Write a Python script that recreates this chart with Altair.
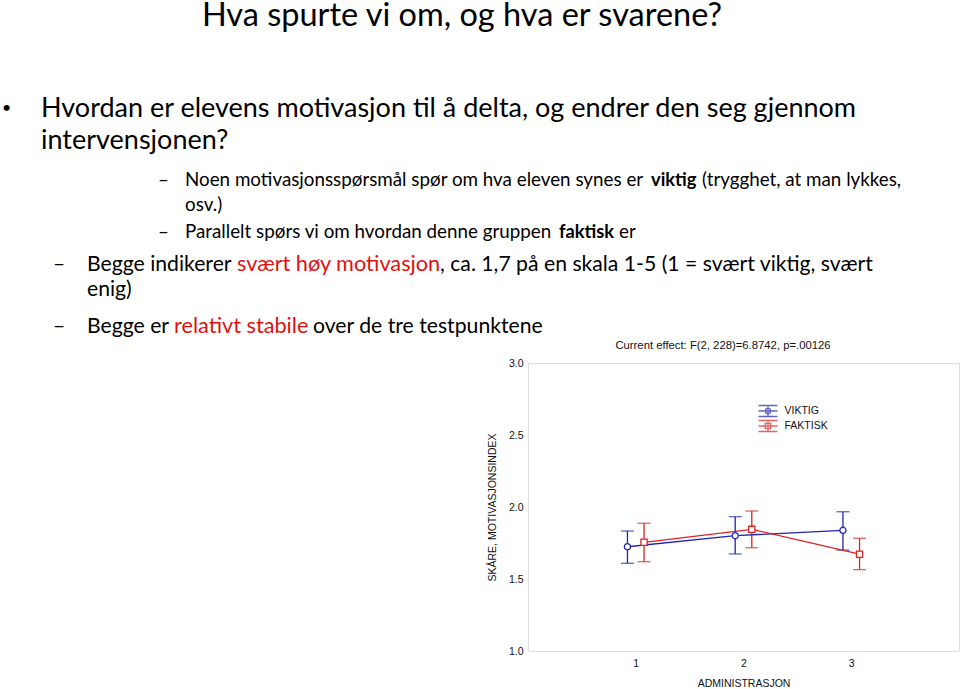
import altair as alt
import pandas as pd

# ---------------- chart data ----------------
administrasjon = [1, 2, 3]
series_names = ["VIKTIG", "FAKTISK"]
viktig_mean = [1.724, 1.801, 1.838]
viktig_lo = [1.609, 1.674, 1.701]
viktig_hi = [1.833, 1.933, 1.967]
faktisk_mean = [1.755, 1.845, 1.672]
faktisk_lo = [1.620, 1.717, 1.565]
faktisk_hi = [1.887, 1.972, 1.783]
y_ticks = [1.0, 1.5, 2.0, 2.5, 3.0]
x_ticks = [1, 2, 3]

chart_title = "Current effect: F(2, 228)=6.8742, p=.00126"
x_title = "ADMINISTRASJON"
y_title = "SKÅRE, MOTIVASJONSINDEX"

# ---------------- slide text ----------------
slide_title = "Hva spurte vi om, og hva er svarene?"
bullet_line1 = "Hvordan er elevens motivasjon til å delta, og endrer den seg gjennom"
bullet_line2 = "intervensjonen?"
sub1_a = "Noen motivasjonsspørsmål spør om hva eleven synes er"
sub1_bold = "viktig"
sub1_b = "(trygghet, at man lykkes,"
sub1_cont = "osv.)"
sub2_a = "Parallelt spørs vi om hvordan denne gruppen"
sub2_bold = "faktisk"
sub2_b = "er"
item1_a = "Begge indikerer"
item1_red = "svært høy motivasjon"
item1_b = ", ca. 1,7 på en skala 1-5 (1 = svært viktig, svært"
item1_cont = "enig)"
item2_a = "Begge er"
item2_red = "relativt stabile"
item2_b = "over de tre testpunktene"

BLUE = "#2323b4"
RED = "#dc2222"
TXT_RED = "#e01010"
FONT = "Liberation Sans"
SLIDE_FONT = "Lato"

# plot-area placement on the 960x689 page
PL, PT, PW, PH = 528, 363, 431, 288

rows = []
for name, m, lo, hi in [("VIKTIG", viktig_mean, viktig_lo, viktig_hi),
                        ("FAKTISK", faktisk_mean, faktisk_lo, faktisk_hi)]:
    for a, mv, lv, hv in zip(administrasjon, m, lo, hi):
        rows.append({"series": name, "adm": a, "mean": mv, "lo": lv, "hi": hv})
df = pd.DataFrame(rows)

base = alt.Chart(df).transform_calculate(
    xpos="datum.adm + (datum.series == 'VIKTIG' ? -0.077 : 0.077)"
)

xscale = alt.Scale(domain=[0, 4], nice=False, zero=False)
yscale = alt.Scale(domain=[1, 3], nice=False, zero=False)
cscale = alt.Scale(domain=series_names, range=[BLUE, RED])

x_enc = alt.X("xpos:Q", scale=xscale, axis=alt.Axis(
    values=x_ticks, format="d", title=x_title, ticks=False, domain=False, grid=False,
    labelFont=FONT, labelFontSize=10.5, labelColor="#111", labelPadding=7,
    titleFont=FONT, titleFontSize=10.5, titleFontWeight="normal", titleColor="#111",
    titlePadding=10))
y_axis = alt.Axis(
    values=y_ticks, format=".1f", title=y_title, ticks=False, domain=False, grid=False,
    labelFont=FONT, labelFontSize=10.5, labelColor="#111", labelPadding=5,
    titleFont=FONT, titleFontSize=10.5, titleFontWeight="normal", titleColor="#111",
    titlePadding=11)
color_enc = alt.Color("series:N", scale=cscale, legend=None)

rules = base.mark_rule(strokeWidth=1.3).encode(
    x=x_enc, y=alt.Y("lo:Q", scale=yscale, axis=y_axis), y2="hi:Q", color=color_enc)
cap_lo = base.mark_tick(orient="horizontal", size=13, thickness=1.3).encode(
    x=alt.X("xpos:Q", scale=xscale), y=alt.Y("lo:Q", scale=yscale), color=color_enc)
cap_hi = base.mark_tick(orient="horizontal", size=13, thickness=1.3).encode(
    x=alt.X("xpos:Q", scale=xscale), y=alt.Y("hi:Q", scale=yscale), color=color_enc)
lines = base.mark_line(strokeWidth=1.3).encode(
    x=alt.X("xpos:Q", scale=xscale), y=alt.Y("mean:Q", scale=yscale), color=color_enc)
points = base.mark_point(filled=False, fill="white", fillOpacity=1, strokeWidth=1.3, opacity=1).encode(
    x=alt.X("xpos:Q", scale=xscale), y=alt.Y("mean:Q", scale=yscale), color=color_enc,
    shape=alt.Shape("series:N", scale=alt.Scale(domain=series_names, range=["circle", "square"]),
                    legend=None),
    size=alt.value(38))

# legend symbols: error-bar glyph with marker (unit = 5.5 px)
path_v = ("M-1.73,-1H1.73M-1.73,0H1.73M-1.73,1H1.73M0,-1V1"
          "M0.49,0A0.49,0.49,0,1,1,-0.49,0A0.49,0.49,0,1,1,0.49,0")
path_f = ("M-1.73,-1H1.73M-1.73,0H1.73M-1.73,1H1.73M0,-1V1"
          "M-0.49,-0.49H0.49V0.49H-0.49Z")
leg = dict(title=None, orient="none", legendX=233.5, legendY=41.5, symbolSize=121,
           symbolStrokeWidth=1.3, labelFont=FONT, labelFontSize=10.5, labelColor="#111",
           labelOffset=10, rowPadding=-2, padding=0)
legend_layer = base.transform_filter("false").mark_point(filled=False, strokeWidth=1.3).encode(
    x=alt.X("xpos:Q", scale=xscale), y=alt.Y("mean:Q", scale=yscale),
    color=alt.Color("series:N", scale=cscale, legend=alt.Legend(**leg)),
    shape=alt.Shape("series:N", scale=alt.Scale(domain=series_names, range=[path_v, path_f]),
                    legend=alt.Legend(**leg)))

plot = alt.layer(rules, cap_lo, cap_hi, lines, points, legend_layer).resolve_scale(
    shape="independent", color="independent")

# ---------------- slide text layers ----------------
def tlayer(items, size, weight="normal", color="black", align="left", font=SLIDE_FONT):
    d = pd.DataFrame([{"t": t, "px": x - PL, "py": y - PT} for t, x, y in items])
    return alt.Chart(d).mark_text(
        align=align, baseline="alphabetic", font=font, fontSize=size,
        fontWeight=weight, color=color).encode(
        x=alt.X("px:Q", scale=None, axis=None),
        y=alt.Y("py:Q", scale=None, axis=None),
        text="t:N")

t_title = tlayer([(slide_title, 462, 26)], 32.5, align="center")
t_dot = tlayer([("•", 2, 113)], 16)
t_bullet = tlayer([(bullet_line1, 41, 117), (bullet_line2, 41, 149)], 27)
t_sub = tlayer([("–", 158, 186), (sub1_a, 185, 186), (sub1_b, 702, 186),
                (sub1_cont, 185, 211),
                ("–", 158, 238), (sub2_a, 185, 238), (sub2_b, 619, 238)], 18.8)
t_sub_bold = tlayer([(sub1_bold, 651, 186), (sub2_bold, 559, 238)], 18.3, weight="bold")
t_item = tlayer([("–", 53, 271), (item1_a, 87, 271), (item1_b, 440, 271),
                 (item1_cont, 87, 296),
                 ("–", 53, 333), (item2_a, 87, 333), (item2_b, 313, 333)], 21.2)
t_item_red = tlayer([(item1_red, 237, 271), (item2_red, 174, 333)], 21.7, color=TXT_RED)
t_chart_title = tlayer([(chart_title, 723, 349)], 11.3, color="#111", align="center", font=FONT)

texts = alt.layer(t_title, t_dot, t_bullet, t_sub, t_sub_bold, t_item, t_item_red, t_chart_title)

chart = alt.layer(plot, texts).resolve_scale(x="independent", y="independent").properties(
    width=PW, height=PH,
    autosize=alt.AutoSizeParams(type="none"),
    padding={"left": PL, "top": PT, "right": 960 - PL - PW, "bottom": 689 - PT - PH},
).configure_view(stroke="#111", strokeWidth=1.2).configure(background="white")

chart.save("out.html", embed_options={"renderer": "svg", "actions": False})
